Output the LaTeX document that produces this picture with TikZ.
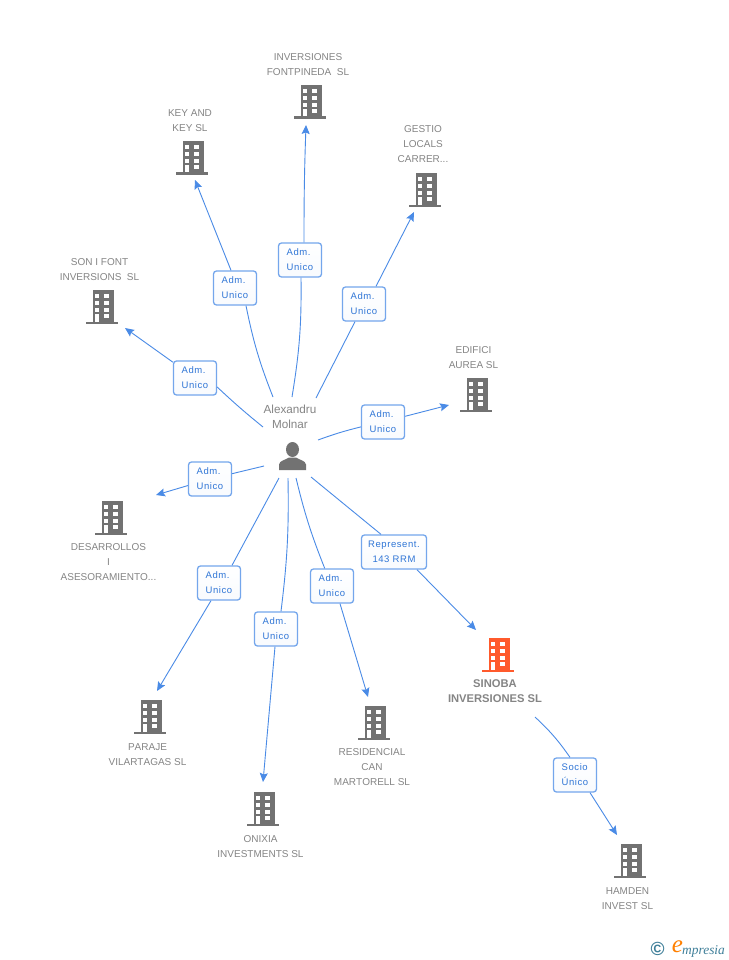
\documentclass[tikz,border=0pt]{standalone}
\usepackage{fontspec}
\setmainfont[Kerning=Off]{Liberation Sans}
\newfontfamily\boxfont[LetterSpace=6,Kerning=Off]{Liberation Sans}
\newfontfamily\logofont{Liberation Serif}
\usepackage{tikz}
\usetikzlibrary{arrows.meta}
\definecolor{linkblue}{HTML}{4A8BE6}
\definecolor{boxblue}{HTML}{74A6EC}
\definecolor{boxtext}{HTML}{2F75D6}
\definecolor{bldgray}{HTML}{727272}
\definecolor{bldred}{HTML}{FF5A2C}
\definecolor{txtgray}{HTML}{858585}
\definecolor{logoblue}{HTML}{3F7F99}
\tikzset{
  link/.style={draw=linkblue,line width=0.9pt},
  linkarrow/.style={link,-{Stealth[length=9pt,width=8pt,inset=1.5pt]}},
  admbox/.style={draw=boxblue,line width=1.3pt,rounded corners=3pt,top color=white,bottom color=white!95!boxblue,
    minimum width=43pt,minimum height=34pt,inner sep=0pt,align=left,text=boxtext,
    font=\boxfont\fontsize{9.5}{15}\selectfont},
  lbl/.style={align=center,text=txtgray,inner sep=0pt,font=\fontsize{10}{15}\selectfont},
  building/.style={minimum width=32pt,minimum height=34pt,inner sep=0pt,path picture={
    \begin{scope}[shift={(path picture bounding box.center)}]
    \fill[#1] (-9.5,-17) rectangle (12,14.5);
    \fill[#1] (-16,14.5) rectangle (16,17);
    \fill[white] (-7.3,-12.7) rectangle (-3,-8.7);
    \fill[white] (2,-12.7) rectangle (7.3,-8.7);
    \fill[white] (-7.3,-6) rectangle (-3,-2);
    \fill[white] (2,-6) rectangle (7.3,-2);
    \fill[white] (-7.3,0.7) rectangle (-3,4.7);
    \fill[white] (2,0.7) rectangle (7.3,4.7);
    \fill[white] (-7.3,7.3) rectangle (-3,14.5);
    \fill[white] (2,7.3) rectangle (7.3,11.3);
    \end{scope}}},
}
\begin{document}
\begin{tikzpicture}[x=1pt,y=-1pt]
\useasboundingbox[fill=white] (0,0) rectangle (728,960);
% buildings
\node[building=bldgray] (fontpineda) at (310,102) {};
\node[building=bldgray] (keykey) at (192,158) {};
\node[building=bldgray] (gestio) at (425,190) {};
\node[building=bldgray] (sonifont) at (102,307) {};
\node[building=bldgray] (aurea) at (476,395) {};
\node[building=bldgray] (desarrollos) at (111,518) {};
\node[building=bldgray] (paraje) at (150,717) {};
\node[building=bldgray] (onixia) at (263,809) {};
\node[building=bldgray] (residencial) at (374,723) {};
\node[building=bldred] (sinoba) at (498,655) {};
\node[building=bldgray] (hamden) at (630,861) {};
% labels
\node[lbl] (fontpinedatxt) at (308,64.5) {INVERSIONES\\FONTPINEDA\ \ SL};
\node[lbl] (keykeytxt) at (190,120.5) {KEY AND\\KEY SL};
\node[lbl] (gestiotxt) at (423,144.5) {GESTIO\\LOCALS\\CARRER...};
\node[lbl] (sonifonttxt) at (99.5,269.5) {SON I FONT\\INVERSIONS\ \ SL};
\node[lbl] (aureatxt) at (473.5,357.5) {EDIFICI\\AUREA SL};
\node[lbl] (desarrollostxt) at (108.5,562.5) {DESARROLLOS\\I\\ASESORAMIENTO...};
\node[lbl] (parajetxt) at (147.5,754.5) {PARAJE\\VILARTAGAS SL};
\node[lbl] (onixiatxt) at (260.5,846.5) {ONIXIA\\INVESTMENTS SL};
\node[lbl] (residencialtxt) at (372,767.5) {RESIDENCIAL\\CAN\\MARTORELL SL};
\node[lbl,font=\bfseries\fontsize{11.2}{15}\selectfont] (sinobatxt) at (495,691.5) {SINOBA\\INVERSIONES SL};
\node[lbl] (hamdentxt) at (627.5,898.5) {HAMDEN\\INVEST SL};
% person
\node[lbl,font=\fontsize{11.7}{15}\selectfont] (molnartxt) at (290,416.5) {Alexandru\\Molnar};
\node[minimum width=28pt,minimum height=28pt,inner sep=0pt,path picture={
  \begin{scope}[shift={(path picture bounding box.center)}]
  \fill[bldgray] (0,-7) ellipse (6.5 and 7.5);
  \fill[bldgray] (-13.5,13.5) -- (-13.5,8) .. controls (-13,4) and (-7,3.5) .. (-3.5,1) -- (3.5,1)
    .. controls (7,3.5) and (13,4) .. (13.5,8) -- (13.5,13.5) -- cycle;
  \end{scope}}] (molnar) at (292.5,456.5) {};
% ends of the connectors
\coordinate (s1) at (263,427);
\coordinate (s2) at (273,397);
\coordinate (s3) at (292,397);
\coordinate (s4) at (316,398);
\coordinate (s5) at (318,440);
\coordinate (s6) at (264,466);
\coordinate (s7) at (279,478);
\coordinate (s8) at (288,478);
\coordinate (s9) at (296,478);
\coordinate (s10) at (311,477);
\coordinate (s11) at (535,717);
\coordinate (e1) at (125,328);
\coordinate (e2) at (195,180);
\coordinate (e3) at (306,125);
\coordinate (e4) at (414,212);
\coordinate (e5) at (449,405);
\coordinate (e6) at (156,495);
\coordinate (e7) at (157,691);
\coordinate (e8) at (263,782);
\coordinate (e9) at (368,697);
\coordinate (e10) at (476,630);
\coordinate (e11) at (617,835);
% boxes
\node[admbox] (adm1) at (195,378) {Adm.\\Unico};
\node[admbox] (adm2) at (235,288) {Adm.\\Unico};
\node[admbox] (adm3) at (300,260) {Adm.\\Unico};
\node[admbox] (adm4) at (364,304) {Adm.\\Unico};
\node[admbox] (adm5) at (383,422) {Adm.\\Unico};
\node[admbox] (adm6) at (210,479) {Adm.\\Unico};
\node[admbox] (adm7) at (219,583) {Adm.\\Unico};
\node[admbox] (adm8) at (276,629) {Adm.\\Unico};
\node[admbox] (adm9) at (332,586) {Adm.\\Unico};
\node[admbox,minimum width=65pt,align=center] (adm10) at (394,552) {Represent.\\143 RRM};
\node[admbox] (adm11) at (575,775) {Socio\\Único};
% connectors
\draw[link] (s1) to[bend left=2] ([yshift=-9pt]adm1.east);
\draw[linkarrow] (adm1) -- (e1);
\draw[link] (s2) to[bend left=5] ([xshift=11pt]adm2.south);
\draw[linkarrow] ([xshift=-4pt]adm2.north) -- (e2);
\draw[link] (s3) to[bend right=5] ([xshift=1pt]adm3.south);
\draw[linkarrow] ([xshift=4pt]adm3.north) to[bend left=1] (e3);
\draw[link] (s4) -- (adm4);
\draw[linkarrow] ([xshift=12pt]adm4.north) -- (e4);
\draw[link] (s5) to[bend left=3] (adm5);
\draw[linkarrow] (adm5) -- (e5);
\draw[link] (s6) -- (adm6);
\draw[linkarrow] (adm6) -- (e6);
\draw[link] (s7) -- ([xshift=13pt]adm7.north);
\draw[linkarrow] ([xshift=-8pt]adm7.south) -- (e7);
\draw[link] (s8) to[bend left=4] ([xshift=5pt]adm8.north);
\draw[linkarrow] ([xshift=-1pt]adm8.south) -- (e8);
\draw[link] (s9) to[bend right=4] (adm9);
\draw[linkarrow] ([xshift=8pt]adm9.south) -- (e9);
\draw[link] (s10) -- ([xshift=-13pt]adm10.north);
\draw[linkarrow] ([xshift=23pt]adm10.south) -- (e10);
\draw[link] (s11) to[bend left=6] ([xshift=-5pt]adm11.north);
\draw[linkarrow] ([xshift=15pt]adm11.south) -- (e11);
% logo
\node[inner sep=0pt,text=logoblue,font=\bfseries\fontsize{19}{19}\selectfont] (copyr) at (657.5,948.5) {©};
\node[inner sep=0pt,text=orange,font=\logofont\itshape\fontsize{25}{25}\selectfont] (logoe) at (677.5,946.5) {e};
\node[inner sep=0pt,anchor=west,text=logoblue,font=\logofont\itshape\fontsize{13.4}{13.4}\selectfont] (logotxt) at (682,951) {mpresia};
\end{tikzpicture}
\end{document}
